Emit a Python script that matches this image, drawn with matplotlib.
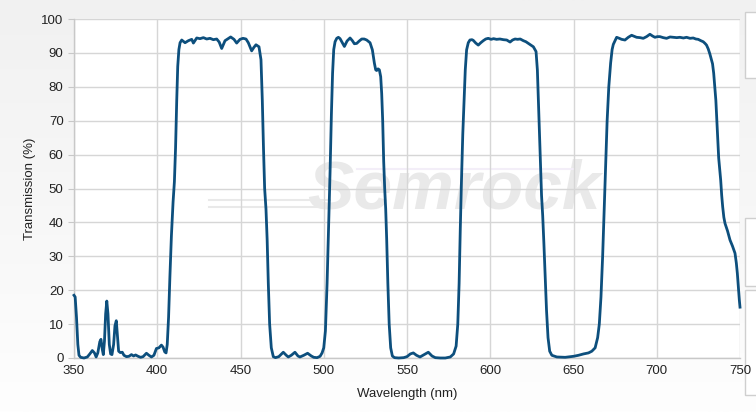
import numpy as np
import matplotlib
matplotlib.use("Agg")
import matplotlib.pyplot as plt
from matplotlib.patches import Rectangle
from matplotlib.colors import LinearSegmentedColormap

plt.rcParams['font.family'] = ['Liberation Sans', 'DejaVu Sans']

wavelength = [
    350, 350.7, 351.5, 352.3, 353, 354, 356, 358, 359.5, 361, 362.3, 363.3, 364.3, 365.5, 366.2, 367, 367.6,
    368.3, 369, 369.7, 370.4, 371.2, 372, 372.8, 373.8, 374.6, 375.4, 376.1, 376.8, 377.8, 379, 380, 381.5,
    383, 384.5, 385.8, 387, 388.5, 390, 391.5, 393.5, 395, 396.5, 398, 399.5, 401, 402.5, 403.5, 404.5, 405.3,
    406, 406.8, 407.6, 408.5, 409.5, 410.3, 411, 411.7, 412.3, 413, 413.7, 414.7, 416.7, 418.7, 420.7, 421.7,
    423.7, 425.7, 427.7, 429.7, 431.7, 433.7, 435.7, 437.2, 438.7, 440.7, 442.5, 444.1, 446.1, 447.7, 449.7,
    451.5, 453.3, 454.7, 456.7, 458, 459.3, 461.1, 462.3, 463.1, 463.8, 464.5, 465.3, 466, 466.7, 467.5, 468.5,
    469.7, 471, 473, 475.7, 477.5, 478.7, 480.5, 482.7, 484.5, 485.7, 488, 490.3, 492.5, 494, 496, 497.8, 499,
    500, 501, 502, 503, 503.8, 504.6, 505.3, 506, 506.8, 507.8, 508.8, 509.8, 510.8, 512.4, 514, 515.8, 517.2,
    518.4, 519.8, 521.3, 522.8, 524.3, 525.8, 527.8, 529.2, 530.4, 531.2, 531.8, 532.6, 533.4, 534.2, 534.8,
    535.4, 536, 536.6, 537.2, 537.8, 538.5, 539.3, 540.2, 541.2, 542.5, 545, 548, 550, 552, 553.8, 555.7, 557.8,
    560, 562.8, 565, 567, 570, 573, 576, 578, 579.5, 580.5, 581.3, 582, 582.7, 583.5, 584.3, 585, 585.8, 586.8,
    587.8, 589, 589.8, 591.3, 592.8, 594.3, 595.8, 597.3, 598.8, 600.5, 602, 603.8, 605.8, 607.9, 609.9, 611.9,
    613.4, 614.9, 616.4, 618, 619.9, 621.4, 622.9, 624.4, 625.9, 627.5, 628.3, 628.9, 629.5, 630.2, 630.8,
    631.5, 632.2, 633, 633.8, 634.7, 635.7, 637, 640, 645, 650, 653, 656, 659, 661, 663, 664.5, 665.5, 666.5,
    667.5, 668.5, 669.3, 670.2, 671.2, 672.3, 673.2, 673.9, 675.9, 677.5, 678.9, 680.9, 682.9, 684.9, 686.4,
    687.9, 690, 691.9, 693.9, 695.9, 697.4, 698.9, 700.4, 701.9, 703.9, 705.9, 708, 709.9, 712, 713.9, 716,
    717.9, 720, 721.9, 723.5, 724.9, 726.5, 727.9, 729, 729.9, 730.9, 731.9, 732.8, 733.5, 734.2, 734.9, 735.5,
    736.3, 737.2, 738.4, 739, 739.6, 740.3, 741, 742.5, 744, 745.5, 747, 747.8, 748.4, 749, 749.6, 750,
]
transmission = [
    18.5, 18, 12, 4, 0.8, 0.2, 0, 0.3, 1.2, 2.2, 1.5, 0.3, 1.5, 4.8, 5.5, 2.5, 1.0,
    5, 13, 16.8, 13, 4, 1.2, 1, 4, 9.5, 11, 6.5, 2, 1.6, 1.7, 0.8, 0.4,
    0.5, 1.0, 0.6, 0.9, 0.5, 0.2, 0.4, 1.4, 0.8, 0.3, 0.8, 2.8, 3, 3.8, 3.2, 1.8, 1.5,
    4, 12, 24, 36, 46, 52, 62, 76, 86, 91, 93, 93.8, 93.0, 93.6, 94.0, 92.9,
    94.4, 94.2, 94.5, 94.1, 94.3, 93.9, 94.1, 93.2, 91.3, 93.6, 94.2, 94.7, 94.0, 92.9, 94.0,
    94.3, 94.1, 93.0, 90.6, 91.6, 92.4, 91.8, 88, 76, 62, 50, 44, 35, 22, 10, 3,
    0.4, 0.1, 0.4, 1.7, 0.8, 0.3, 0.8, 1.7, 0.6, 0.3, 0.8, 1.4, 0.6, 0.2, 0.1, 0.5, 1.5,
    3, 8, 22, 40, 55, 72, 84, 91, 93.3, 94.3, 94.6, 94.2, 93.3, 91.9, 93.5, 94.4, 93.6,
    92.7, 92.8, 93.5, 94.1, 94.1, 93.8, 93.0, 90.9, 87, 85, 84.8, 85.3, 85, 83, 78,
    70, 58, 50, 44, 35, 22, 10, 3, 0.6, 0.1, 0, 0.1, 0.4, 1.2, 1.5, 0.8, 0.3,
    0.9, 1.7, 0.6, 0.1, 0, 0, 0.3, 1.2, 3.5, 10, 22, 38, 52, 66, 76, 85, 90.9, 93,
    93.8, 93.9, 93.7, 92.9, 92.3, 93.0, 93.6, 94.1, 94.3, 94.0, 94.2, 94.0, 94.1, 93.9, 93.8, 93.2,
    93.8, 94.1, 94.0, 94.1, 93.6, 93.3, 92.8, 92.3, 91.8, 90.4, 85, 76, 66, 56, 48,
    42, 34, 24, 14, 6, 2, 0.8, 0.3, 0.2, 0.5, 0.8, 1.2, 1.5, 2, 3, 6, 10, 18,
    30, 45, 58, 70, 80, 87, 91, 92.5, 94.6, 94.3, 94.0, 93.8, 94.6, 95.2, 94.9,
    94.6, 94.5, 94.3, 94.8, 95.5, 95.0, 94.6, 94.8, 94.8, 94.5, 94.3, 94.7, 94.6, 94.5, 94.6, 94.4,
    94.6, 94.3, 94.4, 94.1, 94.0, 93.6, 93.3, 92.8, 92.3, 91.2, 89.7, 88, 86.8, 84, 79.8, 76,
    68, 59, 52.5, 48, 44.6, 41.5, 39.7, 37.5, 34.8, 33, 30.9, 28, 25, 21, 17.1, 15,
]

x_ticks = [350, 400, 450, 500, 550, 600, 650, 700, 750]
y_ticks = [0, 10, 20, 30, 40, 50, 60, 70, 80, 90, 100]

W, H = 756, 412
fig = plt.figure(figsize=(W / 100, H / 100), dpi=100)

# background gradient
bg = fig.add_axes([0, 0, 1, 1], zorder=-10)
grad = np.linspace(0, 1, 256).reshape(-1, 1)
cmap = LinearSegmentedColormap.from_list('bg', ['#f1f1f1', '#f7f7f7', '#fefefe'])
bg.imshow(grad, aspect='auto', cmap=cmap, extent=[0, 1, 0, 1], origin='upper')
bg.set_axis_off()

# right side UI panels
for (y0, y1) in [(12, 78), (218, 286), (290, 395)]:
    fig.add_artist(Rectangle((745 / W, 1 - y1 / H), (W - 745) / W + 0.01, (y1 - y0) / H,
                             transform=fig.transFigure, facecolor='white',
                             edgecolor='#cfcfcf', lw=1.0, zorder=-5))

left, right, top, bottom = 74, 740, 19, 358
ax = fig.add_axes([left / W, 1 - bottom / H, (right - left) / W, (bottom - top) / H])
ax.set_facecolor('white')

# watermark
ax.text(578, 49.5, 'Semrock', fontsize=50, fontweight='bold', fontstyle='italic',
        color='#e9e9e9', ha='center', va='center', zorder=0.2)
for yy, x0, x1 in [(46.6, 431, 504), (44.4, 431, 500)]:
    ax.plot([x0, x1], [yy, yy], color='#e9e9e9', lw=1.5, zorder=0.2)
ax.plot([520, 650], [55.8, 55.8], color='#f3eef8', lw=1.5, zorder=0.2)

ax.plot(wavelength, transmission, color='#0d4f7d', lw=2.0, zorder=3,
        solid_joinstyle='round', clip_on=False)

ax.set_xlim(350, 750)
ax.set_ylim(0, 100)
ax.set_xticks(x_ticks)
ax.set_yticks(y_ticks)
ax.grid(True, color='#d6d6d6', lw=1.0, zorder=0)
ax.set_axisbelow(True)
for s in ['top', 'right']:
    ax.spines[s].set_visible(False)
for s in ['left', 'bottom']:
    ax.spines[s].set_color('#c8c8c8')
    ax.spines[s].set_linewidth(1.0)
ax.tick_params(axis='both', colors='#c8c8c8', labelcolor='#222222', labelsize=9.5, length=4)
ax.tick_params(axis='x', length=0, pad=5)
ax.set_xlabel('Wavelength (nm)', fontsize=9.5, color='#222222', labelpad=8)
ax.set_ylabel('Transmission (%)', fontsize=9.5, color='#222222')
ax.yaxis.set_label_coords((36 - left) / (right - left), 0.5)

fig.savefig('out.png', dpi=100)
